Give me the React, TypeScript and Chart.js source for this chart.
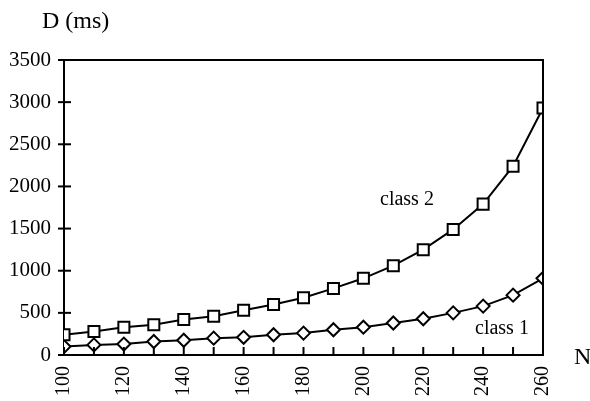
import React, { useEffect, useRef } from "react";
import { Chart, registerables } from "chart.js";

Chart.register(...registerables);

const nValues = [100, 110, 120, 130, 140, 150, 160, 170, 180, 190, 200, 210, 220, 230, 240, 250, 260];
const class1 = [100, 120, 130, 160, 175, 200, 210, 240, 260, 300, 330, 380, 430, 500, 580, 710, 910];
const class2 = [240, 280, 330, 360, 420, 460, 530, 600, 680, 790, 910, 1060, 1250, 1490, 1790, 2240, 2930];
const yTicks = [0, 500, 1000, 1500, 2000, 2500, 3000, 3500];
const xLabelStep = 20;

const FONT = "'Liberation Serif', 'Times New Roman', serif";

const decorPlugin = {
  id: "decor",
  afterDraw(chart: any) {
    const { ctx, chartArea } = chart;
    const xs = chart.scales.x;
    const ys = chart.scales.y;
    ctx.save();
    ctx.strokeStyle = "#000";
    ctx.lineWidth = 2;
    ctx.beginPath();
    ctx.moveTo(chartArea.left, chartArea.top);
    ctx.lineTo(chartArea.right, chartArea.top);
    ctx.lineTo(chartArea.right, chartArea.bottom);
    ctx.stroke();
    yTicks.forEach((v) => {
      const y = ys.getPixelForValue(v);
      ctx.beginPath();
      ctx.moveTo(chartArea.left - 6, y);
      ctx.lineTo(chartArea.left + 7, y);
      ctx.stroke();
    });
    nValues.forEach((v) => {
      const x = xs.getPixelForValue(v);
      ctx.beginPath();
      ctx.moveTo(x, chartArea.bottom);
      ctx.lineTo(x, chartArea.bottom - 8);
      ctx.stroke();
    });
    ctx.fillStyle = "#000";
    ctx.textBaseline = "alphabetic";
    ctx.textAlign = "left";
    ctx.font = `24px ${FONT}`;
    ctx.fillText("D (ms)", 42, 28);
    ctx.fillText("N", 574, 364);
    ctx.font = `20px ${FONT}`;
    ctx.fillText("class 2", 380, 205);
    ctx.fillText("class 1", 475, 334);
    ctx.restore();
  },
};

export default function App() {
  const ref = useRef<HTMLCanvasElement>(null);
  useEffect(() => {
    if (!ref.current) return;
    const chart = new Chart(ref.current, {
      type: "line",
      data: {
        datasets: [
          {
            label: "class 2",
            data: nValues.map((n, i) => ({ x: n, y: class2[i] })),
            borderColor: "#000",
            borderWidth: 2,
            pointStyle: "rect",
            pointRadius: 7.8,
            pointBackgroundColor: "#fff",
            pointBorderColor: "#000",
            pointBorderWidth: 2,
            tension: 0,
          },
          {
            label: "class 1",
            data: nValues.map((n, i) => ({ x: n, y: class1[i] })),
            borderColor: "#000",
            borderWidth: 2,
            pointStyle: "rectRot",
            pointRadius: 6.5,
            pointBackgroundColor: "#fff",
            pointBorderColor: "#000",
            pointBorderWidth: 2,
            tension: 0,
          },
        ],
      },
      options: {
        animation: false,
        responsive: false,
        layout: { padding: { left: 0, top: 60, right: 47, bottom: 0 } },
        plugins: { legend: { display: false }, tooltip: { enabled: false } },
        scales: {
          x: {
            type: "linear",
            min: 100,
            max: 260,
            grid: { display: false, drawTicks: false },
            border: { display: true, color: "#000", width: 2 },
            ticks: {
              stepSize: 10,
              autoSkip: false,
              maxRotation: 90,
              minRotation: 90,
              padding: 11,
              color: "#000",
              font: { family: FONT, size: 20 },
              callback: (v: any) => (Number(v) % xLabelStep === 0 ? String(v) : ""),
            },
            afterFit: (s: any) => {
              s.height = 46;
            },
          },
          y: {
            min: 0,
            max: 3500,
            grid: { display: false, drawTicks: false },
            border: { display: true, color: "#000", width: 2 },
            ticks: {
              stepSize: 500,
              padding: 13,
              color: "#000",
              font: { family: FONT, size: 21 },
              callback: (v: any) => String(v),
            },
            afterFit: (s: any) => {
              s.width = 64;
            },
          },
        },
      },
      plugins: [decorPlugin],
    });
    return () => chart.destroy();
  }, []);
  return (
    <div style={{ position: "absolute", left: 0, top: 0, width: 590, height: 401, background: "#fff" }}>
      <canvas ref={ref} width={590} height={401} style={{ display: "block" }} />
    </div>
  );
}
